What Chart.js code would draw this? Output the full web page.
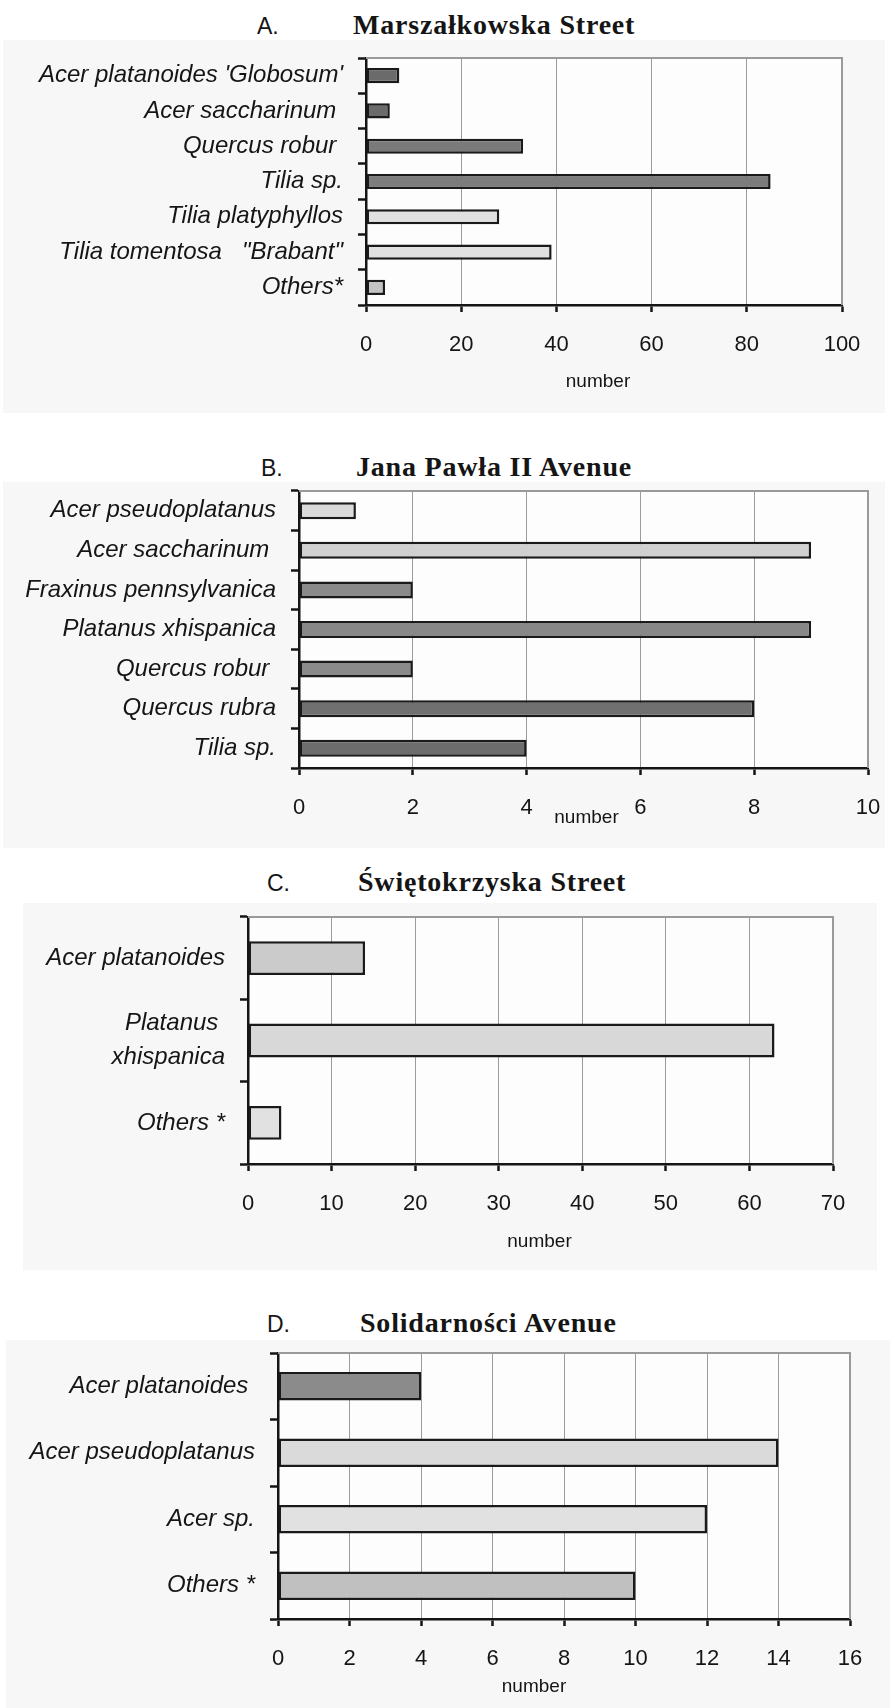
<!DOCTYPE html>
<html>
<head>
<meta charset="utf-8">
<script src="https://cdn.jsdelivr.net/npm/chart.js@4.4.0/dist/chart.umd.min.js"></script>
<style>
  body { margin: 0; background: #fff; }
  #page { position: relative; width: 890px; height: 1708px; overflow: hidden; }
  .panel { position: absolute; background: #f7f7f7; }
  .panel canvas { position: absolute; left: 0; top: 0; }
  .letter, .street { position: absolute; white-space: nowrap; color: #151515; line-height: 1; }
  .letter { font-family: "Liberation Sans", Arial, sans-serif; font-size: 23px; }
  .street { font-family: "Liberation Serif", "Times New Roman", serif; font-weight: bold; font-size: 28px; letter-spacing: 0.8px; }
</style>
</head>
<body>
<div id="page">
  <div class="letter" style="left:257px;top:15px">A.</div>
  <div class="street" style="left:353px;top:11px">Marszałkowska Street</div>
  <div class="panel" style="left:3px;top:40px;width:882px;height:373px"><canvas id="chartA" width="882" height="373"></canvas></div>

  <div class="letter" style="left:261px;top:457px">B.</div>
  <div class="street" style="left:356px;top:453px">Jana Pawła II Avenue</div>
  <div class="panel" style="left:3px;top:482px;width:882px;height:366px"><canvas id="chartB" width="882" height="366"></canvas></div>

  <div class="letter" style="left:267px;top:872px">C.</div>
  <div class="street" style="left:358px;top:868px">Świętokrzyska Street</div>
  <div class="panel" style="left:23px;top:903px;width:854px;height:367px"><canvas id="chartC" width="854" height="367"></canvas></div>

  <div class="letter" style="left:267px;top:1313px">D.</div>
  <div class="street" style="left:360px;top:1309px">Solidarności Avenue</div>
  <div class="panel" style="left:6px;top:1340px;width:884px;height:368px"><canvas id="chartD" width="884" height="368"></canvas></div>
</div>
<script>
// A. Marszałkowska Street
const namesA = ["Acer platanoides 'Globosum'", 'Acer saccharinum ', 'Quercus robur ', 'Tilia sp.', 'Tilia platyphyllos', 'Tilia tomentosa   "Brabant"', 'Others*'];
const treesA = [7, 5, 33, 85, 28, 39, 4];
const ticksA = [0, 20, 40, 60, 80, 100];

// B. Jana Pawła II Avenue
const namesB = ['Acer pseudoplatanus', 'Acer saccharinum ', 'Fraxinus pennsylvanica', 'Platanus xhispanica', 'Quercus robur ', 'Quercus rubra', 'Tilia sp.'];
const treesB = [1, 9, 2, 9, 2, 8, 4];
const ticksB = [0, 2, 4, 6, 8, 10];

// C. Świętokrzyska Street
const namesC = ['Acer platanoides', ['Platanus ', 'xhispanica'], 'Others *'];
const treesC = [14, 63, 4];
const ticksC = [0, 10, 20, 30, 40, 50, 60, 70];

// D. Solidarności Avenue
const namesD = ['Acer platanoides ', 'Acer pseudoplatanus', 'Acer sp.', 'Others *'];
const treesD = [4, 14, 12, 10];
const ticksD = [0, 2, 4, 6, 8, 10, 12, 14, 16];

// bar fills
const fillA = ['#6b6b6b', '#6b6b6b', '#7a7a7a', '#7c7c7c', '#e1e1e1', '#e1e1e1', '#c3c3c3'];
const fillB = ['#dadada', '#d0d0d0', '#8a8a8a', '#888888', '#8a8a8a', '#707070', '#6d6d6d'];
const fillC = ['#cbcbcb', '#d8d8d8', '#e1e1e1'];
const fillD = ['#8b8b8b', '#dadada', '#e1e1e1', '#c0c0c0'];

const ink = '#151515';
const sans = '"Liberation Sans", Arial, sans-serif';

// white plot area with grey top/right frame
const plotFrame = {
  id: 'plotFrame',
  beforeDraw(chart) {
    const { ctx, chartArea: a } = chart;
    ctx.save();
    ctx.fillStyle = '#fdfdfd';
    ctx.fillRect(a.left, a.top, a.width, a.height);
    ctx.restore();
  },
  beforeDatasetsDraw(chart) {
    const { ctx, chartArea: a } = chart;
    ctx.save();
    ctx.strokeStyle = '#9a9a9a';
    ctx.lineWidth = 2;
    ctx.beginPath();
    ctx.moveTo(a.left, a.top);
    ctx.lineTo(a.right, a.top);
    ctx.lineTo(a.right, a.bottom);
    ctx.stroke();
    ctx.restore();
  }
};

// "number" caption under the x axis
const caption = {
  id: 'caption',
  afterDraw(chart, args, opts) {
    const { ctx, chartArea: a } = chart;
    ctx.save();
    ctx.font = '19px ' + sans;
    ctx.fillStyle = ink;
    ctx.textAlign = 'center';
    ctx.textBaseline = 'middle';
    ctx.fillText(opts.text, (a.left + a.right) / 2 + opts.dx, a.bottom + opts.dy);
    ctx.restore();
  }
};

function drawPanel(id, names, trees, fills, ticks, geo) {
  const canvas = document.getElementById(id);
  const W = canvas.width, H = canvas.height;
  return new Chart(canvas.getContext('2d'), {
    type: 'bar',
    data: {
      labels: names,
      datasets: [{
        data: trees,
        backgroundColor: fills,
        borderColor: '#1a1a1a',
        borderWidth: 2.5,
        borderSkipped: false,
        barPercentage: geo.bar,
        categoryPercentage: 1
      }]
    },
    plugins: [plotFrame, caption],
    options: {
      indexAxis: 'y',
      responsive: false,
      animation: false,
      devicePixelRatio: 1,
      layout: { padding: { left: 0, top: geo.t, right: W - geo.r, bottom: 0 } },
      plugins: {
        legend: { display: false },
        tooltip: { enabled: false },
        caption: { text: 'number', dx: geo.capDx, dy: geo.capDy }
      },
      scales: {
        x: {
          min: ticks[0],
          max: ticks[ticks.length - 1],
          ticks: {
            stepSize: ticks[1] - ticks[0],
            padding: 20,
            color: ink,
            font: { family: sans, size: 22 }
          },
          grid: { color: '#9c9c9c', lineWidth: 1, tickColor: ink, tickLength: 7, tickWidth: 2.5 },
          border: { color: ink, width: 2.5 },
          afterFit(s) { s.height = H - geo.b; s.paddingLeft = 0; s.paddingRight = 0; }
        },
        y: {
          ticks: {
            padding: 15,
            color: ink,
            font: { family: sans, size: 24, style: 'italic', lineHeight: geo.lh || 1.2 }
          },
          grid: { drawOnChartArea: false, tickColor: ink, tickLength: 8, tickWidth: 2.5 },
          border: { color: ink, width: 2.5 },
          afterFit(s) { s.width = geo.l; s.paddingTop = 0; s.paddingBottom = 0; }
        }
      }
    }
  });
}

// plot rectangles relative to each panel
drawPanel('chartA', namesA, treesA, fillA, ticksA, { l: 363, r: 839, t: 18, b: 265, bar: 0.43, capDx: -6, capDy: 77 });
drawPanel('chartB', namesB, treesB, fillB, ticksB, { l: 296, r: 865, t: 9, b: 286, bar: 0.43, capDx: 3, capDy: 50 });
drawPanel('chartC', namesC, treesC, fillC, ticksC, { l: 225, r: 810, t: 14, b: 261, bar: 0.41, capDx: -1, capDy: 78, lh: 1.4 });
drawPanel('chartD', namesD, treesD, fillD, ticksD, { l: 272, r: 844, t: 13, b: 279, bar: 0.43, capDx: -30, capDy: 68 });
</script>
</body>
</html>
